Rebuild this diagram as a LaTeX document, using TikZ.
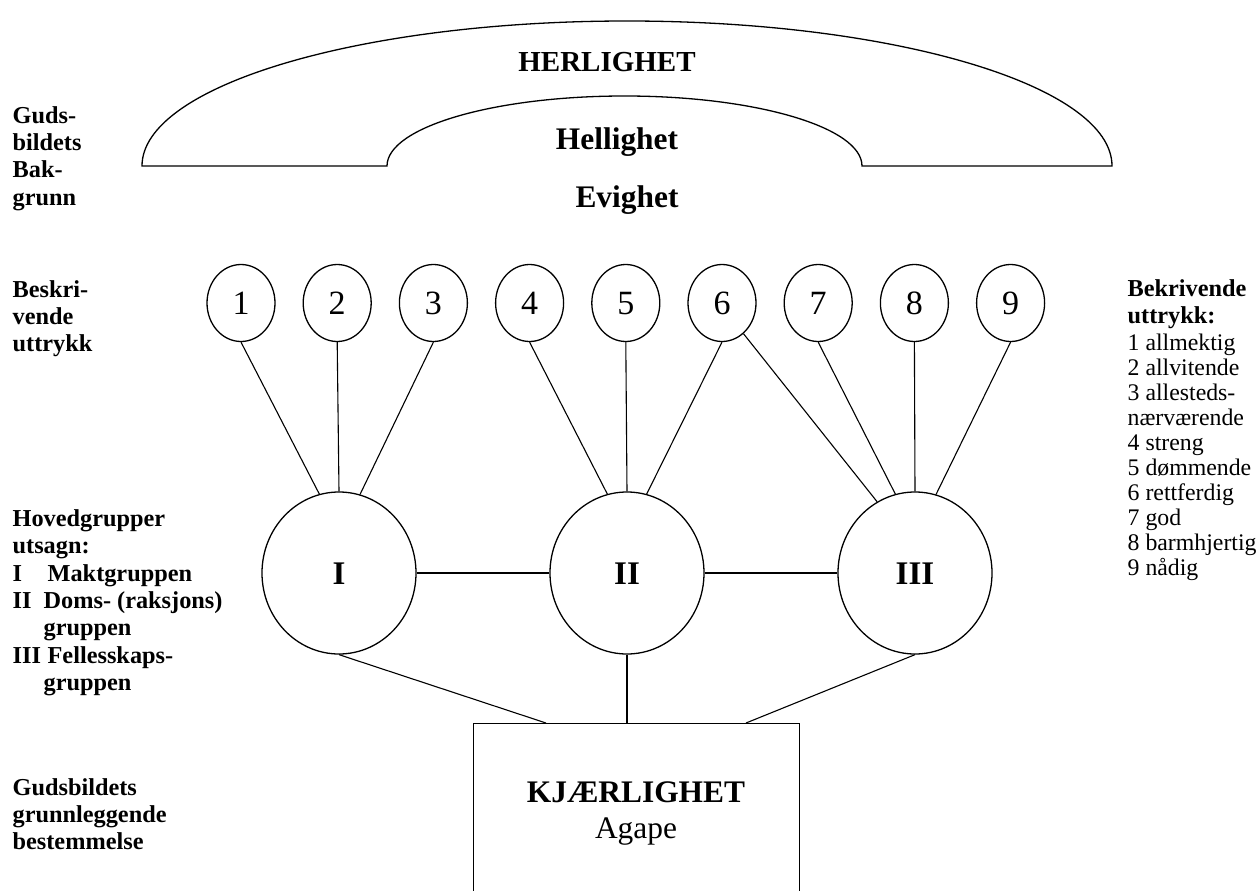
\documentclass[tikz,border=0pt]{standalone}
\usepackage{fontspec}
\setmainfont{Liberation Serif}
\usetikzlibrary{shapes.geometric}
\begin{document}
\begin{tikzpicture}[x=1pt,y=1pt, line width=1.3pt,
  lbl/.style={anchor=base west, inner sep=0pt, font=\bfseries\fontsize{24.3}{27}\selectfont},
  rlbl/.style={anchor=base west, inner sep=0pt, font=\fontsize{23.8}{27}\selectfont},
  big/.style={anchor=base, inner sep=0pt, font=\bfseries\fontsize{31.4}{36}\selectfont},
  num/.style={ellipse, draw, minimum width=68pt, minimum height=77pt, inner sep=0pt, text height=23pt, text depth=0pt, font=\fontsize{34}{40}\selectfont},
  grp/.style={ellipse, draw, minimum width=154pt, minimum height=162pt, inner sep=0pt, text height=22pt, text depth=0pt, font=\bfseries\fontsize{33}{40}\selectfont},
  link/.style={line width=1.1pt}]
\useasboundingbox (0,0) rectangle (1259,-891);

% arch
\draw (142,-166) -- (387,-166)
  arc[start angle=180, end angle=0, x radius=237.5, y radius=70]
  -- (1112,-166)
  arc[start angle=0, end angle=180, x radius=485, y radius=145] -- cycle;

\node[big, font=\bfseries\fontsize{29}{34}\selectfont] (herl) at (607,-71) {HERLIGHET};
\node[big] (hell) at (617,-149) {Hellighet};
\node[big] (evig) at (627,-207) {Evighet};

% circles
\node[num] (c1) at (241,-303) {1};
\node[num] (c2) at (337.2,-303) {2};
\node[num] (c3) at (433.4,-303) {3};
\node[num] (c4) at (529.6,-303) {4};
\node[num] (c5) at (625.8,-303) {5};
\node[num] (c6) at (722,-303) {6};
\node[num] (c7) at (818.2,-303) {7};
\node[num] (c8) at (914.4,-303) {8};
\node[num] (c9) at (1010.6,-303) {9};

% group ellipses
\node[grp] (G1) at (339,-573) {I};
\node[grp] (G2) at (627,-573) {II};
\node[grp] (G3) at (915,-573) {III};

% box
\node[draw, minimum width=326pt, minimum height=200pt, anchor=north west, inner sep=0pt] (K) at (473,-723) {};
\node[big] (kj) at (636,-802) {KJÆRLIGHET};
\node[big, font=\fontsize{31.4}{36}\selectfont] (ag) at (636,-838) {Agape};
\coordinate (k1) at (546,-723);
\coordinate (k2) at (627,-723);
\coordinate (k3) at (746,-723);

% connectors
\draw[link] (c1.south) -- (G1.104.5);
\draw[link] (c2.south) -- (G1.90);
\draw[link] (c3.south) -- (G1.75.5);
\draw[link] (c4.south) -- (G2.104);
\draw[link] (c5.south) -- (G2.90);
\draw[link] (c6.south) -- (G2.76);
\draw[link] (c6.-55) -- (G3.118.6);
\draw[link] (c7.south) -- (G3.104);
\draw[link] (c8.south) -- (G3.90);
\draw[link] (c9.south) -- (G3.75.5);
\draw[link] (G1) -- (G2);
\draw[link] (G2) -- (G3);
\draw[link] (G1.south) -- (k1);
\draw[link] (G2.south) -- (k2);
\draw[link] (G3.south) -- (k3);

% left labels
\node[lbl] (a1) at (12,-123) {Guds-};
\node[lbl] (a2) at (12,-150.3) {bildets};
\node[lbl] (a3) at (12,-177.6) {Bak-};
\node[lbl] (a4) at (12,-205) {grunn};
\node[lbl] (b1) at (12,-297) {Beskri-};
\node[lbl] (b2) at (12,-324) {vende};
\node[lbl] (b3) at (12,-351) {uttrykk};
\node[lbl] (h1) at (12,-526.5) {Hovedgrupper};
\node[lbl] (h2) at (12,-553.8) {utsagn:};
\node[lbl] (h3) at (12,-581) {I};
\node[lbl] (h3t) at (47,-581) {Maktgruppen};
\node[lbl] (h4) at (12,-608.4) {II};
\node[lbl] (h4t) at (43,-608.4) {Doms- (raksjons)};
\node[lbl] (h5t) at (43,-635.7) {gruppen};
\node[lbl] (h6) at (12,-663) {III};
\node[lbl] (h6t) at (47,-663) {Fellesskaps-};
\node[lbl] (h7t) at (43,-690.3) {gruppen};
\node[lbl] (g1) at (12,-795) {Gudsbildets};
\node[lbl] (g2) at (12,-822.3) {grunnleggende};
\node[lbl] (g3) at (12,-849.6) {bestemmelse};

% right labels
\node[lbl] (r0) at (1127,-296) {Bekrivende};
\node[lbl] (r00) at (1127,-323) {uttrykk:};
\node[rlbl] (r1) at (1127,-350.5) {1 allmektig};
\node[rlbl] (r2) at (1127,-375.5) {2 allvitende};
\node[rlbl] (r3) at (1127,-400.5) {3 allesteds-};
\node[rlbl] (r3b) at (1127,-425.5) {nærværende};
\node[rlbl] (r4) at (1127,-450.5) {4 streng};
\node[rlbl] (r5) at (1127,-475.5) {5 dømmende};
\node[rlbl] (r6) at (1127,-500.5) {6 rettferdig};
\node[rlbl] (r7) at (1127,-525.5) {7 god};
\node[rlbl] (r8) at (1127,-550.5) {8 barmhjertig};
\node[rlbl] (r9) at (1127,-575.5) {9 nådig};
\end{tikzpicture}
\end{document}
